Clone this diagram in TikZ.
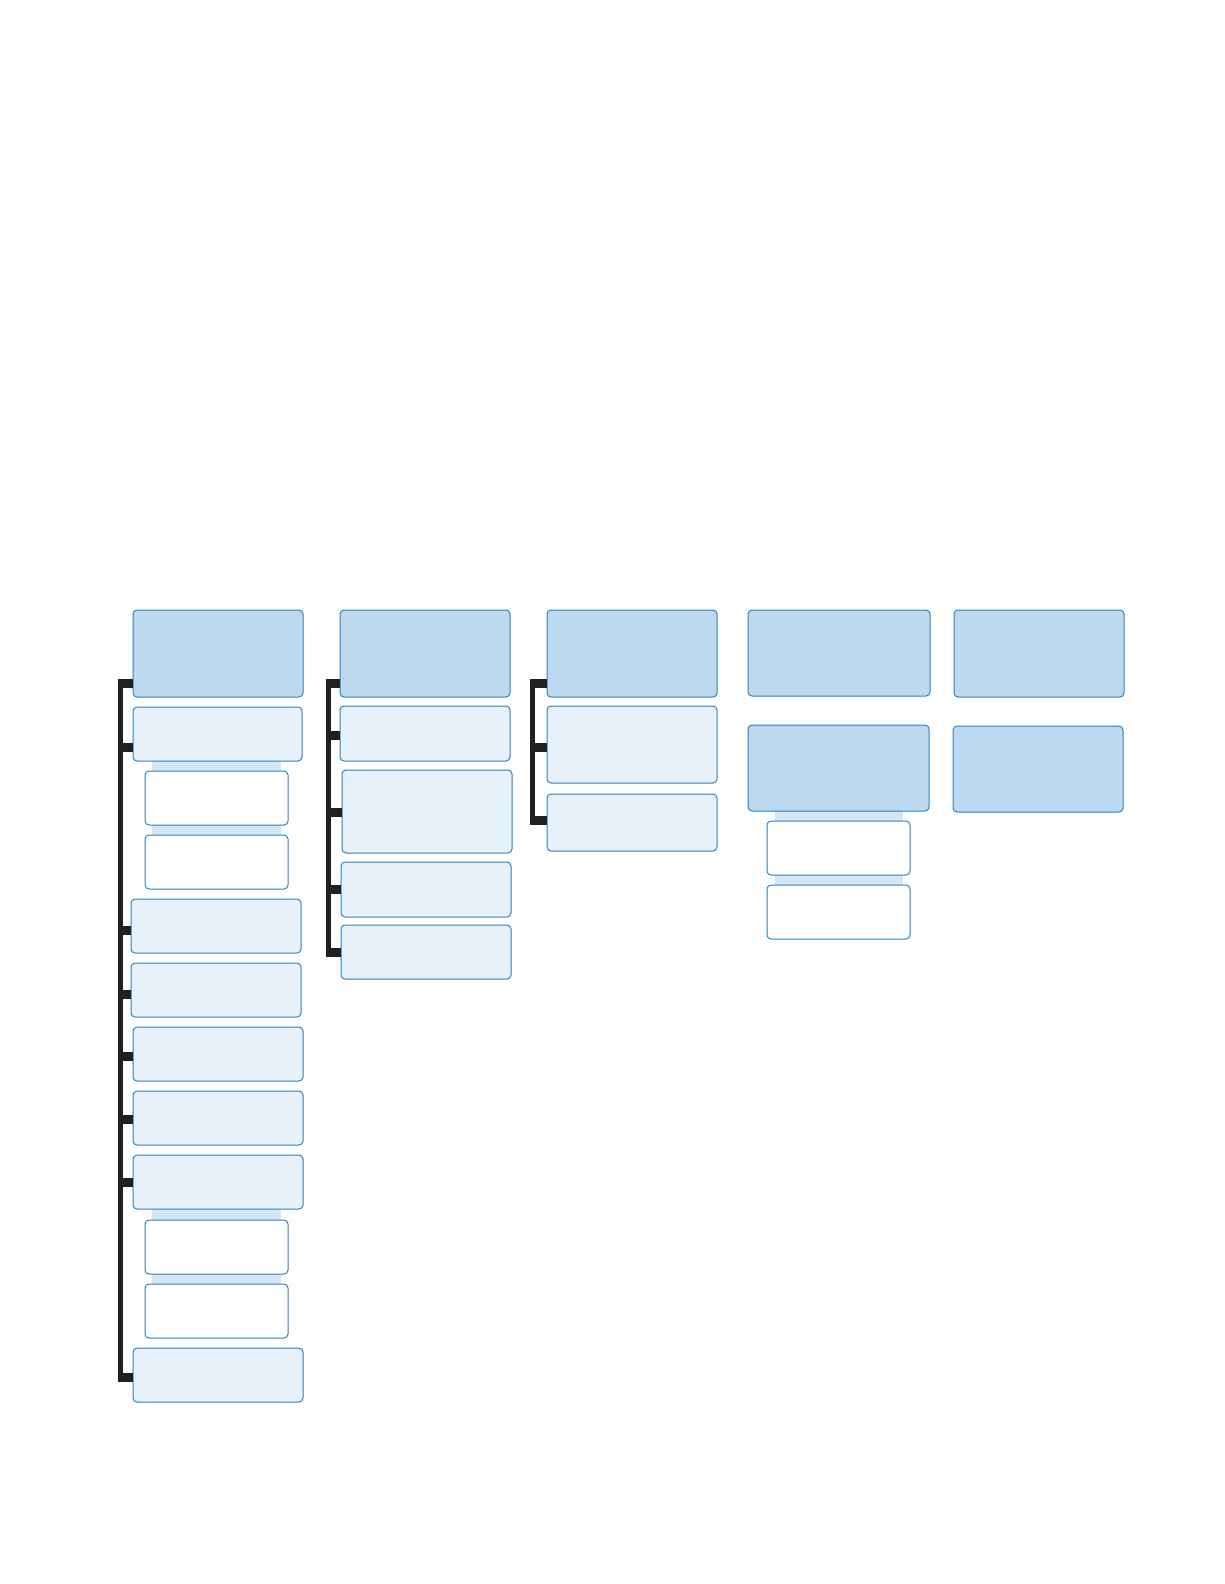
\documentclass[tikz,border=0pt]{standalone}
\definecolor{hdr}{HTML}{BDD9EF}
\definecolor{sub}{HTML}{E6F1FA}
\definecolor{edge}{HTML}{2F7FC1}
\definecolor{strip}{HTML}{D3E6F5}
\definecolor{brk}{HTML}{231F20}
\tikzset{
 hdrbox/.style={draw=edge,fill=hdr,line width=1pt,rounded corners=4pt},
 subbox/.style={draw=edge,fill=sub,line width=1pt,rounded corners=4pt},
 whbox/.style={draw=edge,fill=white,line width=1pt,rounded corners=4pt},
 stripfill/.style={fill=strip},
 spine/.style={draw=brk,line width=5pt},
 stub/.style={draw=brk,line width=9pt},
}
\newcommand{\bx}[6]{\node[#1,minimum width=#4-#3,minimum height=#6-#5,inner sep=0pt] (#2) at ({(#3+#4)/2},{(#5+#6)/2}) {};}
\begin{document}
\begin{tikzpicture}[x=1pt,y=-1pt]
\useasboundingbox (0,0) rectangle (1224,1584);
% strips
\fill[strip] (152,761) rectangle (281,771);
\fill[strip] (152,825) rectangle (281,835);
\fill[strip] (152,1209) rectangle (281,1220);
\fill[strip] (152,1274) rectangle (281,1284);
\fill[strip] (775,811) rectangle (903,821);
\fill[strip] (775,875) rectangle (903,885);
% spines
\draw[spine] (120,681) -- (120,1381);
\draw[spine] (328,681) -- (328,957);
\draw[spine] (532,681) -- (532,824);
% column 1
\bx{hdrbox}{a0}{133}{303}{610}{697}
\bx{subbox}{a1}{133}{302}{707}{761}
\bx{whbox}{a1a}{145}{288}{771}{825}
\bx{whbox}{a1b}{145}{288}{835}{889}
\bx{subbox}{a2}{131}{301}{899}{953}
\bx{subbox}{a3}{131}{301}{963}{1017}
\bx{subbox}{a4}{133}{303}{1027}{1081}
\bx{subbox}{a5}{133}{303}{1091}{1145}
\bx{subbox}{a6}{133}{303}{1155}{1209}
\bx{whbox}{a6a}{145}{288}{1220}{1274}
\bx{whbox}{a6b}{145}{288}{1284}{1338}
\bx{subbox}{a7}{133}{303}{1348}{1402}
% column 2
\bx{hdrbox}{b0}{340}{510}{610}{697}
\bx{subbox}{b1}{340}{510}{706}{761}
\bx{subbox}{b2}{342}{512}{770}{853}
\bx{subbox}{b3}{341}{511}{862}{917}
\bx{subbox}{b4}{341}{511}{925}{979}
% column 3
\bx{hdrbox}{c0}{547}{717}{610}{697}
\bx{subbox}{c1}{547}{717}{706}{783}
\bx{subbox}{c2}{547}{717}{794}{851}
% column 4
\bx{hdrbox}{d0}{748}{930}{610}{696}
\bx{hdrbox}{d1}{748}{929}{725}{811}
\bx{whbox}{d1a}{767}{910}{821}{875}
\bx{whbox}{d1b}{767}{910}{885}{939}
% column 5
\bx{hdrbox}{e0}{954}{1124}{610}{697}
\bx{hdrbox}{e1}{953}{1123}{726}{812}
% stubs
\foreach \n/\y in {a0/683,a1/747,a2/930,a3/994,a4/1056,a5/1119,a6/1182,a7/1377}
  \draw[stub] (118,\y) -- (\n.west |- 0,\y);
\foreach \n/\y in {b0/683,b1/735,b2/812,b3/889,b4/952}
  \draw[stub] (326,\y) -- (\n.west |- 0,\y);
\foreach \n/\y in {c0/683,c1/747,c2/820}
  \draw[stub] (530,\y) -- (\n.west |- 0,\y);
\end{tikzpicture}
\end{document}
